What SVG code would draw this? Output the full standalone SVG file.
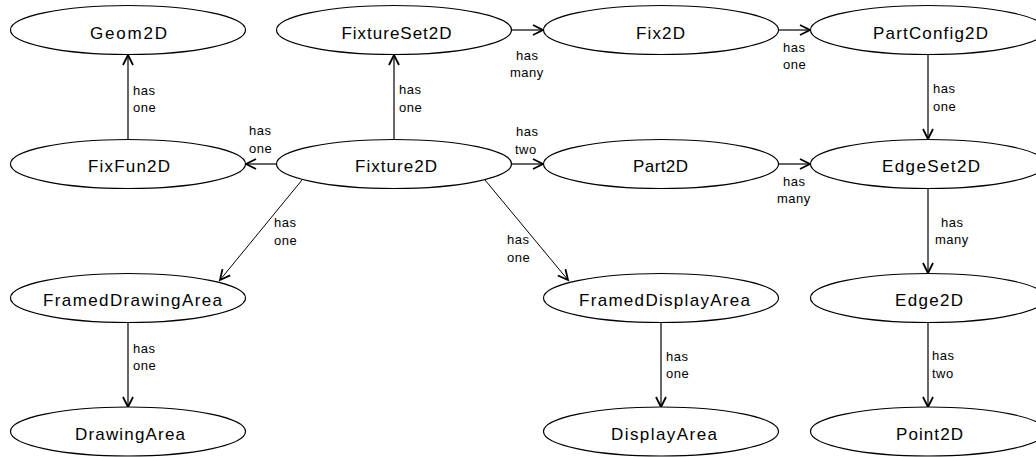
<svg xmlns="http://www.w3.org/2000/svg" width="1036" height="457" viewBox="0 0 1036 457">
<style>
.node ellipse{fill:#fff;stroke:#000;stroke-width:1.2}
.node text{font-family:"Liberation Sans",Arial,sans-serif;font-size:17px;fill:#000;text-anchor:middle}
.edge line{stroke:#000;stroke-width:1.2;fill:none}
.edge .d{stroke-width:1}
.lbl{font-family:"Liberation Sans",Arial,sans-serif;font-size:13px;fill:#000;letter-spacing:0.5px}
</style>
<defs>
<marker id="arr" markerUnits="userSpaceOnUse" markerWidth="14" markerHeight="14" refX="10" refY="5" orient="auto" overflow="visible">
<path d="M0,0 L10,5 L0,10" fill="none" stroke="#000" stroke-width="1.8"/>
</marker>
</defs>
<rect width="1036" height="457" fill="#fff"/>
<g id="connectors" class="edge">
<line x1="128" y1="139.5" x2="128" y2="55" marker-end="url(#arr)"/>
<line x1="276" y1="164" x2="246" y2="164" marker-end="url(#arr)"/>
<line x1="394" y1="139.5" x2="394" y2="55" marker-end="url(#arr)"/>
<line x1="511.5" y1="30" x2="543" y2="30" marker-end="url(#arr)"/>
<line x1="778.5" y1="30" x2="810" y2="30" marker-end="url(#arr)"/>
<line x1="928" y1="54.5" x2="928" y2="139" marker-end="url(#arr)"/>
<line x1="511.5" y1="164" x2="543" y2="164" marker-end="url(#arr)"/>
<line x1="778.5" y1="164" x2="810" y2="164" marker-end="url(#arr)"/>
<line x1="928" y1="188.5" x2="928" y2="273" marker-end="url(#arr)"/>
<line x1="928" y1="322.5" x2="928" y2="407" marker-end="url(#arr)"/>
<line x1="128" y1="322.5" x2="128" y2="407" marker-end="url(#arr)"/>
<line x1="661" y1="322.5" x2="661" y2="407" marker-end="url(#arr)"/>
<line class="d" x1="302" y1="180" x2="220" y2="280" marker-end="url(#arr)"/>
<line class="d" x1="485" y1="180" x2="568" y2="280" marker-end="url(#arr)"/>
<text class="lbl" x="133" y="95">has</text><text class="lbl" x="133" y="112">one</text>
<text class="lbl" x="249" y="135">has</text><text class="lbl" x="249" y="153">one</text>
<text class="lbl" x="399" y="94">has</text><text class="lbl" x="399" y="112">one</text>
<text class="lbl" x="516" y="60">has</text><text class="lbl" x="510" y="77">many</text>
<text class="lbl" x="516" y="136">has</text><text class="lbl" x="515" y="154">two</text>
<text class="lbl" x="783" y="52">has</text><text class="lbl" x="783" y="69">one</text>
<text class="lbl" x="933" y="93">has</text><text class="lbl" x="933" y="111">one</text>
<text class="lbl" x="783" y="186">has</text><text class="lbl" x="777" y="203">many</text>
<text class="lbl" x="941" y="227">has</text><text class="lbl" x="935" y="244">many</text>
<text class="lbl" x="932" y="360">has</text><text class="lbl" x="932" y="378">two</text>
<text class="lbl" x="274" y="227">has</text><text class="lbl" x="274" y="245">one</text>
<text class="lbl" x="133" y="353">has</text><text class="lbl" x="133" y="370">one</text>
<text class="lbl" x="507" y="244">has</text><text class="lbl" x="507" y="262">one</text>
<text class="lbl" x="666" y="361">has</text><text class="lbl" x="666" y="378">one</text>
</g>
<g id="Geom2D" class="node"><ellipse cx="128" cy="30" rx="117.5" ry="24.5"/><text x="128.5" y="38.5" textLength="77" lengthAdjust="spacing">Geom2D</text></g>
<g id="FixtureSet2D" class="node"><ellipse cx="394" cy="30" rx="117.5" ry="24.5"/><text x="396.5" y="38.5" textLength="110" lengthAdjust="spacing">FixtureSet2D</text></g>
<g id="Fix2D" class="node"><ellipse cx="661" cy="30" rx="117.5" ry="24.5"/><text x="660.5" y="38.5" textLength="49" lengthAdjust="spacing">Fix2D</text></g>
<g id="PartConfig2D" class="node"><ellipse cx="928" cy="30" rx="117.5" ry="24.5"/><text x="930.5" y="38.5" textLength="115" lengthAdjust="spacing">PartConfig2D</text></g>
<g id="FixFun2D" class="node"><ellipse cx="128" cy="164" rx="117.5" ry="24.5"/><text x="129" y="171.5" textLength="82" lengthAdjust="spacing">FixFun2D</text></g>
<g id="Fixture2D" class="node"><ellipse cx="394" cy="164" rx="117.5" ry="24.5"/><text x="396" y="171.5" textLength="82" lengthAdjust="spacing">Fixture2D</text></g>
<g id="Part2D" class="node"><ellipse cx="661" cy="164" rx="117.5" ry="24.5"/><text x="660.5" y="171.5" textLength="55" lengthAdjust="spacing">Part2D</text></g>
<g id="EdgeSet2D" class="node"><ellipse cx="928" cy="164" rx="117.5" ry="24.5"/><text x="931" y="171.5" textLength="98" lengthAdjust="spacing">EdgeSet2D</text></g>
<g id="FramedDrawingArea" class="node"><ellipse cx="128" cy="298" rx="117.5" ry="24.5"/><text x="132.5" y="305.5" textLength="179" lengthAdjust="spacing">FramedDrawingArea</text></g>
<g id="FramedDisplayArea" class="node"><ellipse cx="661" cy="298" rx="117.5" ry="24.5"/><text x="664.5" y="305.5" textLength="171" lengthAdjust="spacing">FramedDisplayArea</text></g>
<g id="Edge2D" class="node"><ellipse cx="928" cy="298" rx="117.5" ry="24.5"/><text x="929" y="305.5" textLength="68" lengthAdjust="spacing">Edge2D</text></g>
<g id="DrawingArea" class="node"><ellipse cx="128" cy="431.5" rx="117.5" ry="24.5"/><text x="130" y="439.5" textLength="110" lengthAdjust="spacing">DrawingArea</text></g>
<g id="DisplayArea" class="node"><ellipse cx="661" cy="431.5" rx="117.5" ry="24.5"/><text x="664" y="439.5" textLength="106" lengthAdjust="spacing">DisplayArea</text></g>
<g id="Point2D" class="node"><ellipse cx="928" cy="431.5" rx="117.5" ry="24.5"/><text x="929.5" y="439.5" textLength="67" lengthAdjust="spacing">Point2D</text></g>
</svg>
